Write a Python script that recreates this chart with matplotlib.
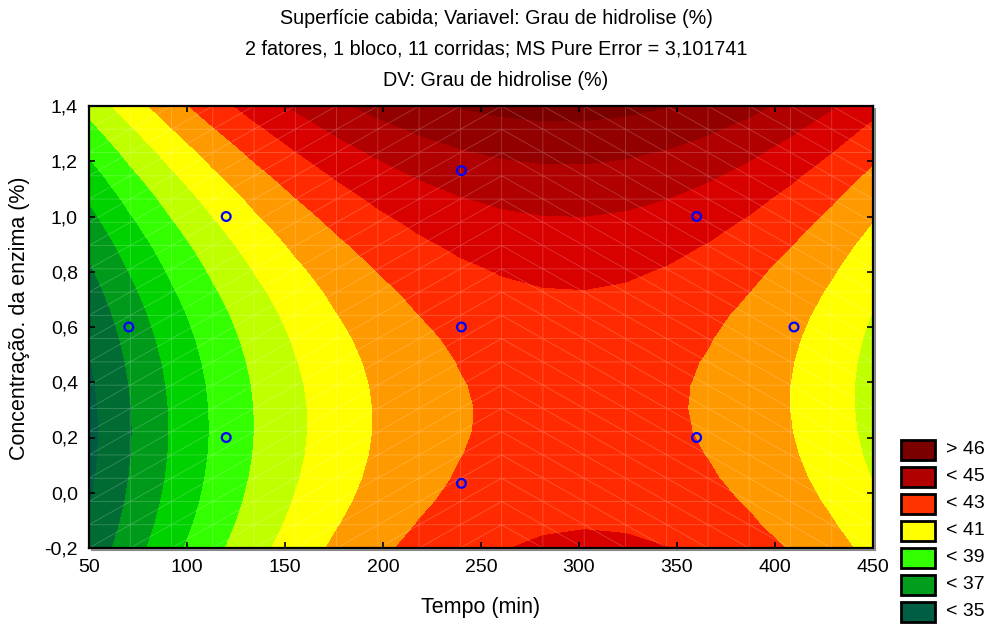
import numpy as np
import matplotlib
matplotlib.use("Agg")
import matplotlib.pyplot as plt
import matplotlib.tri as mtri
from matplotlib.patches import Rectangle
from matplotlib.ticker import FuncFormatter
from matplotlib.lines import Line2D

plt.rcParams['font.family'] = ['Liberation Sans', 'DejaVu Sans']

# ---------------- data ----------------
# experimental runs (central composite design)
tempo_runs = [120, 120, 360, 360, 70.3, 409.7, 240, 240, 240]
enzima_runs = [0.2, 1.0, 0.2, 1.0, 0.6, 0.6, 0.034, 1.166, 0.6]

# fitted second-order surface
saddle_value = 42.372      # Grau de hidrolise at the saddle point
saddle_tempo = 301.0       # min
saddle_enzima = 0.30       # %
curv_enzima = 3.32         # per %^2
curv_tempo = 1.0 / 8255.0  # per min^2
shear = 9.0                # shift of ridge per unit enzima

level_edges = [35, 36, 37, 38, 39, 40, 41, 42, 43, 44, 45, 46]
band_colors = ['#005A44', '#006B32', '#009A1A', '#00D200', '#33FF00', '#C0FF00',
               '#FFFF00', '#FF9900', '#FF2A00', '#D90000', '#B00000', '#920000',
               '#7A0000']
legend_labels = ['> 46', '< 45', '< 43', '< 41', '< 39', '< 37', '< 35']
legend_colors = ['#7A0000', '#B00000', '#FF3300', '#FFFF00', '#33FF00', '#009E1A', '#005E44']

x_ticks = [50, 100, 150, 200, 250, 300, 350, 400, 450]
y_ticks = [-0.2, 0.0, 0.2, 0.4, 0.6, 0.8, 1.0, 1.2, 1.4]

title_lines = ['Superfície cabida; Variavel: Grau de hidrolise (%)',
               '2 fatores, 1 bloco, 11 corridas; MS Pure Error = 3,101741',
               'DV: Grau de hidrolise (%)']
x_label = 'Tempo (min)'
y_label = 'Concentração. da enzima (%)'

# ---------------- surface on STATISTICA-like 20x20 mesh ----------------
n = 20
xg = np.linspace(50, 450, n)
yg = np.linspace(-0.2, 1.4, n)
X, Y = np.meshgrid(xg, yg)
dy = Y - saddle_enzima
Z = saddle_value + curv_enzima * dy ** 2 - curv_tempo * (X - saddle_tempo + shear * dy) ** 2

tris = []
for j in range(n - 1):
    for i in range(n - 1):
        p00 = j * n + i
        p10 = j * n + i + 1
        p01 = (j + 1) * n + i
        p11 = (j + 1) * n + i + 1
        if xg[i] < 250:
            tris += [[p00, p10, p11], [p00, p11, p01]]
        else:
            tris += [[p00, p10, p01], [p10, p11, p01]]
tri = mtri.Triangulation(X.ravel(), Y.ravel(), np.array(tris))

W, H = 992, 626
fig = plt.figure(figsize=(W / 100, H / 100), dpi=100)
L, R, T, B = 89, 873, 106, 548
ax = fig.add_axes([L / W, 1 - B / H, (R - L) / W, (B - T) / H])

levels = [Z.min() - 1] + level_edges + [Z.max() + 1]
ax.tricontourf(tri, Z.ravel(), levels=levels, colors=band_colors, antialiased=False)
ax.triplot(tri, color='white', alpha=0.22, lw=0.6)

ax.scatter(tempo_runs, enzima_runs, s=40, facecolors='none', edgecolors='#0000FF',
           linewidths=1.6, zorder=5)

ax.set_xlim(50, 450)
ax.set_ylim(-0.2, 1.4)
ax.set_xticks(x_ticks)
ax.set_yticks(y_ticks)
fmt = FuncFormatter(lambda v, p: ('%.1f' % v).replace('.', ','))
ax.yaxis.set_major_formatter(fmt)
ax.tick_params(direction='in', top=True, right=True, length=4, width=1.2,
               labelsize=14, pad=8, colors='black')
for s in ax.spines.values():
    s.set_linewidth(1.6)
    s.set_color('black')

# shadow of frame
fig.add_artist(Line2D([(L + 3) / W, (R + 2) / W], [1 - (B + 2) / H] * 2,
                      color='#888888', lw=1.5, transform=fig.transFigure))
fig.add_artist(Line2D([(R + 2) / W] * 2, [1 - (T + 3) / H, 1 - (B + 2) / H],
                      color='#888888', lw=1.5, transform=fig.transFigure))

for k, (t, yy) in enumerate(zip(title_lines, [18, 49, 80])):
    fig.text(496 / W, 1 - yy / H, t, ha='center', va='center', fontsize=14.2)

fig.text((L + R) / 2 / W, 1 - 608 / H, x_label, ha='center', va='center', fontsize=15.5)
fig.text(20 / W, 1 - 318 / H, y_label, ha='center', va='center', rotation=90, fontsize=15.5)

# legend
lax = fig.add_axes([0, 0, 1, 1], facecolor='none')
lax.set_xlim(0, W)
lax.set_ylim(H, 0)
lax.axis('off')
for k, (lab, col) in enumerate(zip(legend_labels, legend_colors)):
    cy = 450 + 26.95 * k
    lax.add_patch(Rectangle((901, cy - 10), 34, 20, facecolor=col, edgecolor='black', lw=2))
    lax.text(946, cy, lab, ha='left', va='center', fontsize=14)

fig.savefig('out.png', dpi=100)
